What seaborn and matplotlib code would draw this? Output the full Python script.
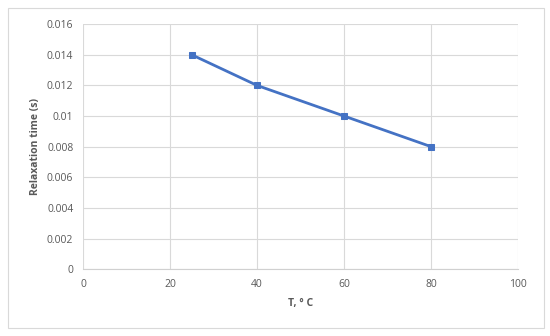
import matplotlib
matplotlib.use("Agg")
import matplotlib.pyplot as plt
import seaborn as sns
import pandas as pd
from matplotlib.patches import Rectangle

# Данные
temps = [25, 40, 60, 80]
relax_times = [0.014, 0.012, 0.010, 0.008]
x_ticks = [0, 20, 40, 60, 80, 100]
y_ticks = [0, 0.002, 0.004, 0.006, 0.008, 0.01, 0.012, 0.014, 0.016]
y_tick_labels = ["0", "0.002", "0.004", "0.006", "0.008", "0.01", "0.012", "0.014", "0.016"]

sns.set_style("whitegrid")
plt.rcParams['font.family'] = ['Open Sans', 'DejaVu Sans']

df = pd.DataFrame({'T': temps, 'tau': relax_times})

fig = plt.figure(figsize=(5.5, 3.36), dpi=100)
ax = fig.add_axes([0.151, 0.199, 0.791, 0.729])

sns.lineplot(data=df, x='T', y='tau', ax=ax, color='#4472C4', linewidth=2,
             marker='s', markersize=4, markeredgecolor='#4472C4', zorder=3)

ax.set_xlim(0, 100)
ax.set_ylim(0, 0.016)
ax.set_xticks(x_ticks)
ax.set_yticks(y_ticks)
ax.set_yticklabels(y_tick_labels)
ax.tick_params(axis='both', labelsize=7.5, labelcolor='#595959', length=0, pad=7)
ax.grid(True, color='#d9d9d9', linewidth=0.8)
for s in ['top', 'right', 'left']:
    ax.spines[s].set_visible(False)
ax.spines['bottom'].set_color('#d0d0d0')
ax.spines['bottom'].set_linewidth(0.8)

ax.set_xlabel("T, ° C", fontsize=7.5, fontweight='bold', color='#595959', labelpad=6)
ax.set_ylabel("Relaxation time (s)", fontsize=7.5, fontweight='bold', color='#595959', labelpad=4)

# Рамка вокруг всей диаграммы
fig.patches.append(Rectangle((8 / 550, 8 / 336), 536 / 550, 320 / 336,
                             transform=fig.transFigure, fill=False,
                             edgecolor='#d9d9d9', linewidth=0.8))

plt.savefig("out.png", dpi=100)
plt.close()
